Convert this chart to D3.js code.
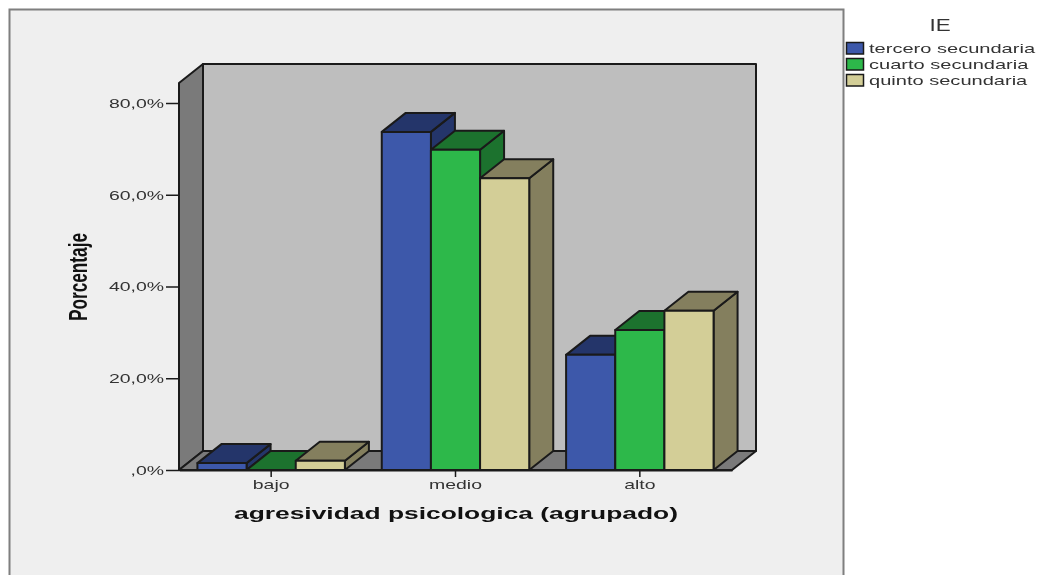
<!DOCTYPE html>
<html><head><meta charset="utf-8">
<script src="https://cdn.jsdelivr.net/npm/d3@7"></script>
<style>html,body{margin:0;padding:0;background:#fff}svg{display:block;filter:blur(0.45px)}text{font-family:"Liberation Sans",Arial,sans-serif}</style>
</head><body><svg id="c" width="1037" height="575"></svg>
<script>
const categories = ["bajo","medio","alto"];
const seriesNames = ["tercero secundaria","cuarto secundaria","quinto secundaria"];
const tercero = [1.5,73.7,25.1];
const cuarto = [0,69.8,30.5];
const quinto = [2.0,63.6,34.7];
const yTicks = [0,20,40,60,80];
const yTickLabels = [",0%","20,0%","40,0%","60,0%","80,0%"];
const frontColors = ["#3d58aa","#2db84a","#d3ce97"];
const topColors = ["#24356a","#1c722e","#847f5e"];
const sideColors = ["#24356a","#1c722e","#847f5e"];
const values = [tercero,cuarto,quinto];

const dx=24, dy=-19;
const svg=d3.select("#c");
const x=d3.scaleBand().domain(categories).range([179,732]).paddingInner(0.2).paddingOuter(0.1);
const x1=d3.scaleBand().domain(d3.range(3)).range([0,x.bandwidth()]);
const y=d3.scaleLinear().domain([0,80]).range([470,103]);
const yTop=y.invert(83);
const ink="#1a1a1a";
const line=d3.line();
const poly=(pts,fill,sw=2)=>svg.append("path").attr("d",line(pts)+"Z").attr("fill",fill).attr("stroke",ink).attr("stroke-width",sw).attr("stroke-linejoin","round");
const stretch=(sel,k)=>sel.each(function(){this.setAttribute("textLength",this.getComputedTextLength()*k);this.setAttribute("lengthAdjust","spacingAndGlyphs");});

// panel
svg.append("path").attr("d","M9.5,580V9.5H843.5V580").attr("fill","#efefef").attr("stroke","#7f7f7f").attr("stroke-width",2);

// walls
const xL=x.range()[0],xR=x.range()[1],y0=y(0),yT=y(yTop);
poly([[xL+dx,yT+dy],[xR+dx,yT+dy],[xR+dx,y0+dy],[xL+dx,y0+dy]],"#bebebe");
poly([[xL,yT],[xL+dx,yT+dy],[xL+dx,y0+dy],[xL,y0]],"#7a7a7a");
poly([[xL,y0],[xL+dx,y0+dy],[xR+dx,y0+dy],[xR,y0]],"#7a7a7a");

// bars
categories.forEach((c,i)=>{
  [0,1,2].forEach(s=>{
    const v=values[s][i];
    const a=x(c)+x1(s), b=a+x1.bandwidth(), t=y(v), f=y(0);
    poly([[b,t],[b+dx,t+dy],[b+dx,f+dy],[b,f]],sideColors[s]);
    poly([[a,t],[a+dx,t+dy],[b+dx,t+dy],[b,t]],topColors[s]);
    if(v>0) poly([[a,t],[b,t],[b,f],[a,f]],frontColors[s]);
  });
});

// axes
const yAxis=d3.axisLeft(y).tickValues(yTicks).tickFormat((d,i)=>yTickLabels[i]).tickSize(13).tickSizeOuter(0);
const gy=svg.append("g").attr("transform",`translate(${xL},0)`).call(yAxis);
gy.select(".domain").remove();
gy.selectAll("line").attr("stroke",ink).attr("stroke-width",1.5);
gy.selectAll("text").attr("font-size",13.5).attr("fill","#333").attr("x",-15).style("font-family","'Liberation Sans'").call(stretch,1.44);
const xAxis=d3.axisBottom(x).tickSize(7).tickSizeOuter(0);
const gx=svg.append("g").attr("transform",`translate(0,${y0})`).call(xAxis);
gx.select(".domain").attr("stroke",ink).attr("stroke-width",2);
gx.selectAll("line").attr("stroke",ink).attr("stroke-width",1.5);
gx.selectAll("text").attr("font-size",13.5).attr("fill","#333").attr("y",9).style("font-family","'Liberation Sans'").call(stretch,1.44);

// titles
svg.append("text").attr("x",456).attr("y",519).attr("text-anchor","middle").attr("font-size",16).attr("font-weight","bold").attr("fill","#111").attr("textLength",444).attr("lengthAdjust","spacingAndGlyphs").text("agresividad psicologica (agrupado)");
svg.append("text").attr("transform","translate(87,277) rotate(-90)").attr("text-anchor","middle").attr("font-size",26).attr("font-weight","bold").attr("fill","#111").attr("textLength",88).attr("lengthAdjust","spacingAndGlyphs").text("Porcentaje");

// legend
svg.append("text").attr("x",940).attr("y",31).attr("text-anchor","middle").attr("font-size",16).attr("fill","#333").text("IE").call(stretch,1.4);
const lg=svg.append("g").selectAll("g").data(seriesNames).join("g").attr("transform",(d,i)=>`translate(846,${42.5+i*16})`);
lg.append("rect").attr("x",0.5).attr("width",17).attr("height",11.5).attr("fill",(d,i)=>frontColors[i]).attr("stroke",ink).attr("stroke-width",1.5);
lg.append("text").attr("x",23).attr("y",10.5).attr("font-size",13.5).attr("fill","#333").text(d=>d).call(stretch,1.485);
</script></body></html>
